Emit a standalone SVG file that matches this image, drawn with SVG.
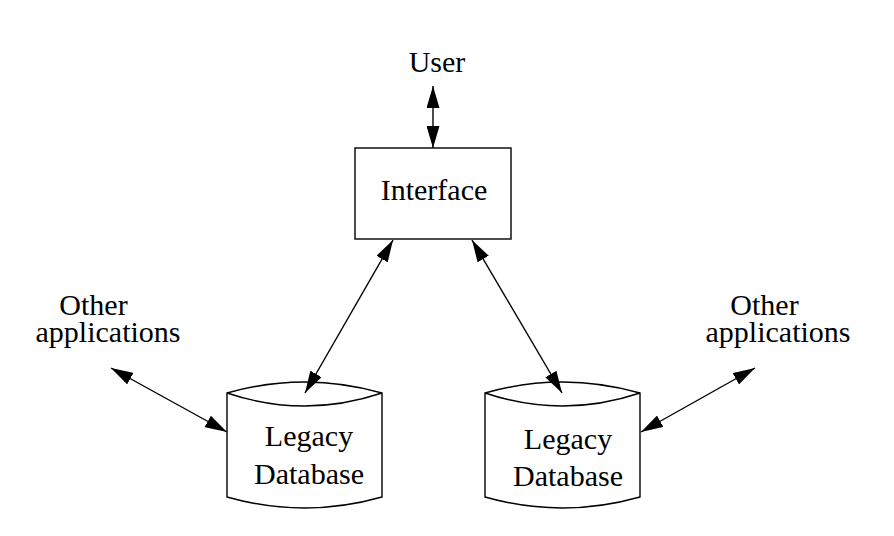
<svg xmlns="http://www.w3.org/2000/svg" width="894" height="536" viewBox="0 0 894 536">
<style>
text{font-family:"Liberation Serif","Times New Roman",serif;font-size:30px;fill:#000;text-anchor:middle}
.shape{fill:#fff;stroke:#000;stroke-width:1.4}
.conn line{stroke:#000;stroke-width:1.4;marker-start:url(#ah);marker-end:url(#ah)}
</style>
<defs>
<marker id="ah" viewBox="0 0 22 13" refX="22" refY="6.5" markerWidth="22" markerHeight="13" markerUnits="userSpaceOnUse" orient="auto-start-reverse">
<path d="M0,0 L22,6.5 L0,13 z" fill="#000"/>
</marker>
</defs>
<rect width="894" height="536" fill="#fff"/>
<g id="user"><text x="437" y="72">User</text></g>
<g id="interface">
<rect class="shape" x="355" y="148" width="156" height="91"/>
<text x="434" y="200">Interface</text>
</g>
<g id="db-left">
<path class="shape" d="M227,393 Q304.5,371 382,393 L382,497 Q304.5,519 227,497 Z"/>
<path class="shape" fill="none" d="M227,393 Q304.5,419 382,393"/>
<text x="309" y="446">Legacy</text>
<text x="309" y="484">Database</text>
</g>
<g id="db-right">
<path class="shape" d="M485,393 Q562.5,371 640,393 L640,497 Q562.5,519 485,497 Z"/>
<path class="shape" fill="none" d="M485,393 Q562.5,419 640,393"/>
<text x="568" y="449">Legacy</text>
<text x="568" y="486">Database</text>
</g>
<g id="other-left">
<text x="93.5" y="315">Other</text>
<text x="108" y="342">applications</text>
</g>
<g id="other-right">
<text x="764.5" y="315">Other</text>
<text x="778" y="342">applications</text>
</g>
<g id="connectors" class="conn">
<line x1="433" y1="86" x2="433" y2="148"/>
<line x1="393" y1="240" x2="305" y2="393"/>
<line x1="472" y1="240" x2="562" y2="393"/>
<line x1="111" y1="368" x2="227" y2="432"/>
<line x1="641" y1="432" x2="755" y2="368"/>
</g>
</svg>
